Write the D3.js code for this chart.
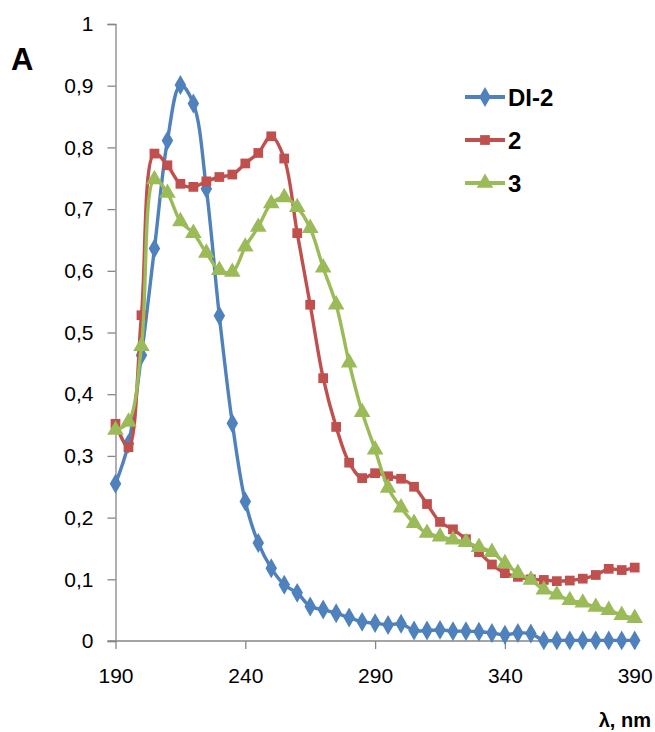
<!DOCTYPE html>
<html>
<head>
<meta charset="utf-8">
<script src="https://cdn.jsdelivr.net/npm/d3@7/dist/d3.min.js"></script>
<style>
  html, body { margin: 0; padding: 0; background: #fff; }
  svg { display: block; font-family: "Liberation Sans", Arial, sans-serif; }
</style>
</head>
<body>
<svg id="chart" width="655" height="732"></svg>
<script>
// ---- data ----
const wavelengths = [190,195,200,205,210,215,220,225,230,235,240,245,250,255,260,265,270,275,280,285,
  290,295,300,305,310,315,320,325,330,335,340,345,350,355,360,365,370,375,380,385,390];

const seriesNames = ["DI-2", "2", "3"];

const valuesDI2 = [0.255,0.320,0.463,0.636,0.811,0.901,0.871,0.733,0.527,0.353,
  0.226,0.159,0.118,0.091,0.078,0.056,0.051,0.045,0.038,0.031,
  0.029,0.026,0.028,0.017,0.017,0.018,0.016,0.016,0.015,0.013,
  0.010,0.013,0.012,0.001,0.001,0.001,0.001,0.001,0.001,0.001,0.001];

const values2 = [0.352,0.314,0.528,0.790,0.771,0.741,0.736,0.745,0.752,0.756,
  0.774,0.791,0.818,0.782,0.661,0.545,0.426,0.347,0.289,0.264,
  0.272,0.267,0.263,0.250,0.222,0.193,0.181,0.165,0.144,0.124,
  0.110,0.104,0.100,0.099,0.097,0.098,0.101,0.107,0.117,0.115,0.119];

const values3 = [0.342,0.355,0.478,0.748,0.726,0.680,0.661,0.629,0.601,0.598,
  0.639,0.671,0.709,0.719,0.703,0.669,0.605,0.545,0.451,0.371,
  0.310,0.248,0.216,0.191,0.175,0.169,0.164,0.160,0.152,0.144,
  0.126,0.110,0.099,0.083,0.075,0.066,0.062,0.055,0.050,0.042,0.037];

const xTicks = [190, 240, 290, 340, 390];
const yTicks = [0, 0.1, 0.2, 0.3, 0.4, 0.5, 0.6, 0.7, 0.8, 0.9, 1];
const yTickLabels = ["0", "0,1", "0,2", "0,3", "0,4", "0,5", "0,6", "0,7", "0,8", "0,9", "1"];
const yAxisTitle = "A";
const xAxisTitle = "λ, nm";

// ---- layout ----
const svg = d3.select("#chart");
const x = d3.scaleLinear().domain([190, 390]).range([115.5, 634.7]);
const y = d3.scaleLinear().domain([0, 1]).range([641, 24]);

const axisColor = "#868686";
const colors = ["#4F81BD", "#C0504D", "#9BBB59"];
const symbols = [d3.symbolDiamond, d3.symbolSquare, d3.symbolTriangle];
const symSizes = [115, 95, 120];

// y axis
const yAxis = svg.append("g").attr("transform", `translate(${x(190)},0)`)
  .call(d3.axisLeft(y).tickValues(yTicks).tickSize(8).tickPadding(14)
    .tickFormat((d, i) => yTickLabels[i]));
yAxis.select(".domain").attr("stroke", axisColor).attr("stroke-width", 1.3);
yAxis.selectAll(".tick line").attr("stroke", axisColor).attr("stroke-width", 1.3);
yAxis.selectAll(".tick text").attr("font-size", 21).attr("fill", "#000")
  .attr("font-family", "Liberation Sans, Arial, sans-serif");

// x axis
const xAxis = svg.append("g").attr("transform", `translate(0,${y(0)})`)
  .call(d3.axisBottom(x).tickValues(xTicks).tickSize(8).tickPadding(19)
    .tickFormat(d3.format("d")));
xAxis.select(".domain").attr("stroke", axisColor).attr("stroke-width", 1.3)
  .attr("d", `M${x(190) - 8},0H${x(390) + 2}`);
xAxis.selectAll(".tick line").attr("stroke", axisColor).attr("stroke-width", 1.3);
xAxis.selectAll(".tick text").attr("font-size", 21).attr("fill", "#000")
  .attr("font-family", "Liberation Sans, Arial, sans-serif");

// axis titles
svg.append("text").attr("x", 11).attr("y", 70).text(yAxisTitle)
  .attr("font-size", 31).attr("font-weight", "bold").attr("fill", "#000");
svg.append("text").attr("x", 651).attr("y", 727).attr("text-anchor", "end").text(xAxisTitle)
  .attr("font-size", 20).attr("font-weight", "bold").attr("fill", "#000");

// series
const allValues = [valuesDI2, values2, values3];
const line = d3.line()
  .x((d, i) => x(wavelengths[i]))
  .y(d => y(d))
  .curve(d3.curveCatmullRom.alpha(0.5));

allValues.forEach((vals, s) => {
  const g = svg.append("g");
  g.append("path").attr("d", line(vals))
    .attr("fill", "none").attr("stroke", colors[s]).attr("stroke-width", 3.4)
    .attr("stroke-linejoin", "round");
  g.selectAll("path.m").data(vals).enter().append("path").attr("class", "m")
    .attr("d", d3.symbol().type(symbols[s]).size(symSizes[s]))
    .attr("transform", (d, i) => `translate(${x(wavelengths[i])},${y(d)})`)
    .attr("fill", colors[s]);
});

// legend
const legendY = [97, 140, 183];
seriesNames.forEach((name, s) => {
  const g = svg.append("g").attr("transform", `translate(0,${legendY[s]})`);
  g.append("line").attr("x1", 465).attr("x2", 505).attr("y1", 0).attr("y2", 0)
    .attr("stroke", colors[s]).attr("stroke-width", 4);
  g.append("path").attr("d", d3.symbol().type(symbols[s]).size(symSizes[s])())
    .attr("transform", "translate(485,0)").attr("fill", colors[s]);
  g.append("text").attr("x", 508).attr("y", 0).attr("dy", "0.36em").text(name)
    .attr("font-size", 24).attr("font-weight", "bold").attr("fill", "#000");
});
</script>
</body>
</html>
